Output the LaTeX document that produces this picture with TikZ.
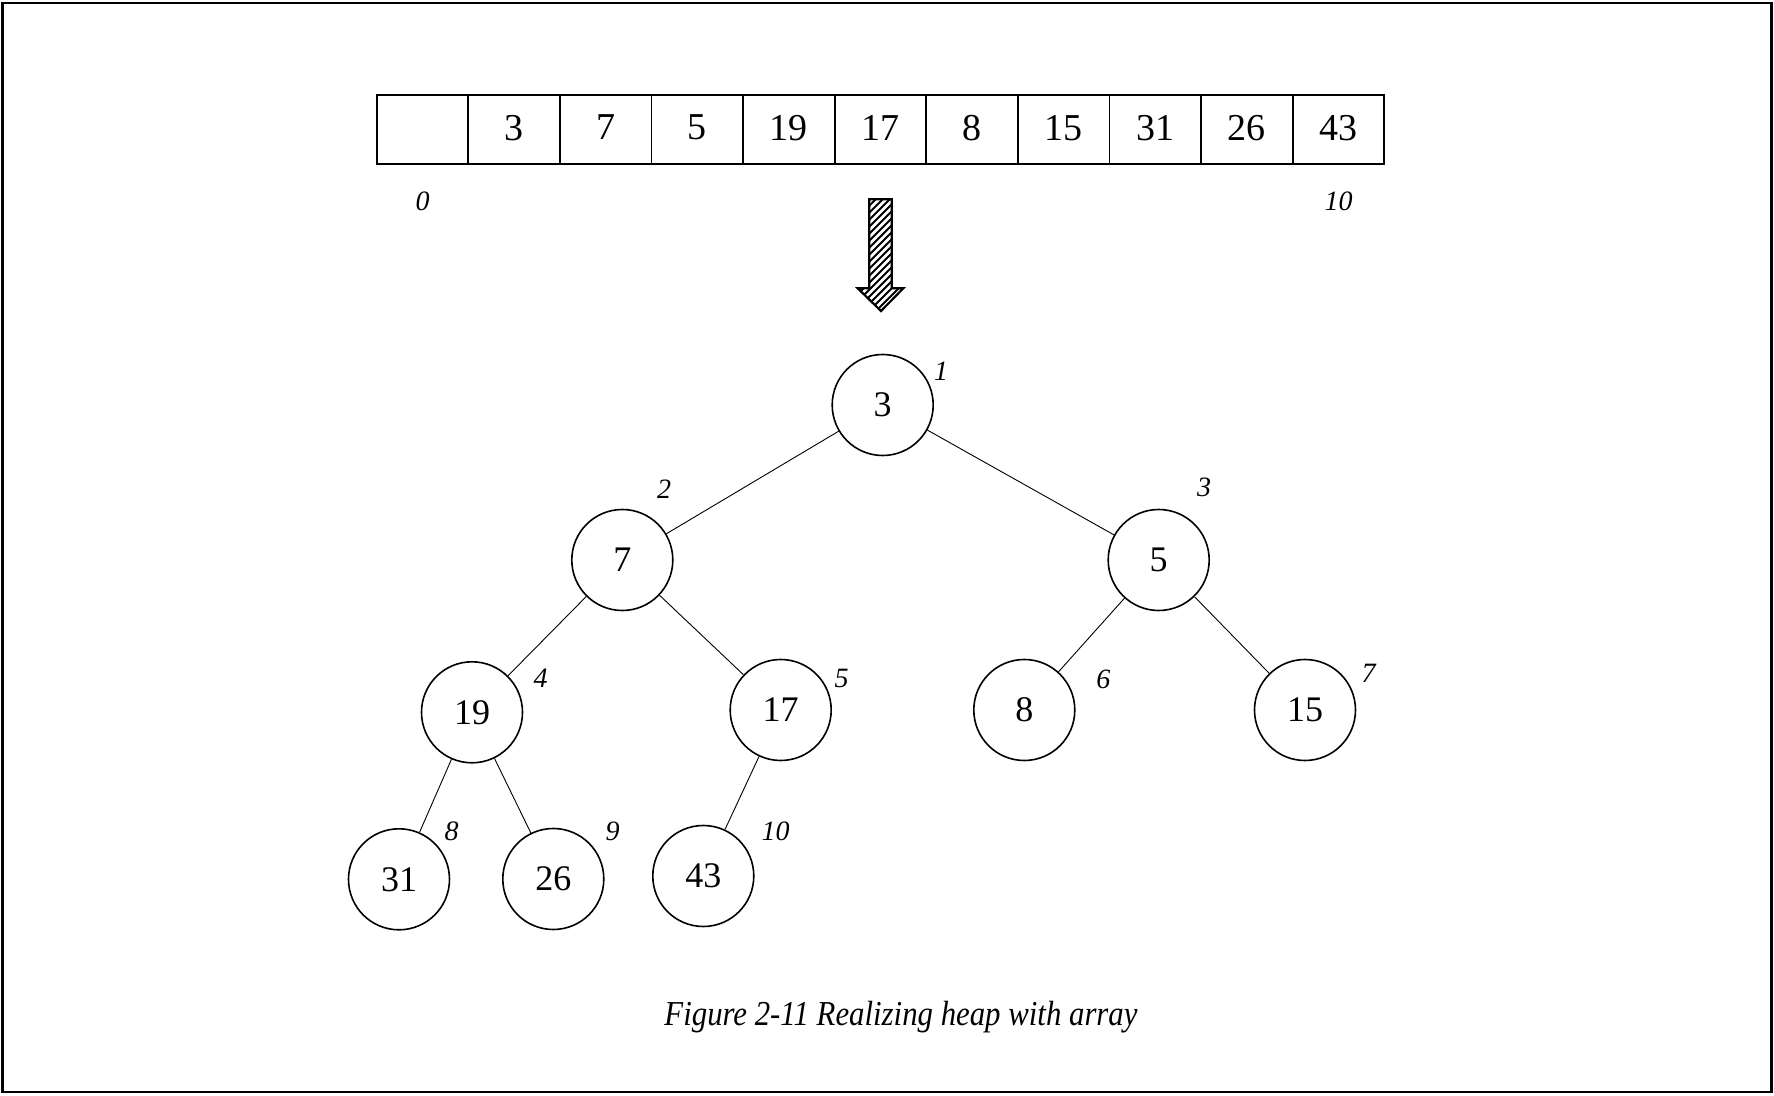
\documentclass[tikz,border=0pt]{standalone}
\usepackage{fontspec}
\setmainfont{Liberation Serif}
\begin{document}
\begin{tikzpicture}[x=0.5pt,y=-0.5pt,
  cell/.style={draw,line width=0.9pt,minimum width=45.8pt,minimum height=34.5pt,inner sep=0pt,font=\fontsize{19}{23}\selectfont},
  heapnode/.style={circle,draw,line width=0.8pt,minimum size=50.5pt,inner sep=0pt,font=\fontsize{18}{22}\selectfont},
  idx/.style={font=\fontsize{14}{17}\selectfont\itshape,inner sep=0pt},
  edge/.style={line width=0.45pt},
  captionstyle/.style={font=\fontsize{17.5}{21}\selectfont\itshape,inner sep=0pt,anchor=base}]
\useasboundingbox (0,0) rectangle (1774,1096);
\draw[line width=1.25pt] (2.5,3) rectangle (1771.5,1092);

% array
\foreach \v [count=\i from 0] in {{},3,7,5,19,17,8,15,31,26,43}
  \node[cell] (c\i) at (422.5+91.6*\i,129.5) {\raisebox{2pt}{\v}};
\node[idx] (i0) at (422.5,201) {0};
\node[idx] (i10) at (1338.5,201) {10};

% hatched arrow
\begin{scope}
  \clip (869.3,199.3) -- (891.7,199.3) -- (891.7,288.3) -- (903.3,288.3) -- (881,311) -- (857.7,288.3) -- (869.3,288.3) -- cycle;
  \foreach \k in {0,...,25} \draw[line width=0.95pt] (850,190+7*\k) -- ++(70,-70);
\end{scope}
\draw[line width=1.1pt,line join=miter] (869.3,199.3) -- (891.7,199.3) -- (891.7,288.3) -- (903.3,288.3) -- (881,311) -- (857.7,288.3) -- (869.3,288.3) -- cycle;

% heap
\node[heapnode] (n1) at (882.7,405) {3};
\node[heapnode] (n2) at (622.3,560) {7};
\node[heapnode] (n3) at (1158.7,560) {5};
\node[heapnode] (n4) at (472,712.3) {19};
\node[heapnode] (n5) at (780.7,710) {17};
\node[heapnode] (n6) at (1024.3,710) {8};
\node[heapnode] (n7) at (1305,710) {15};
\node[heapnode] (n8) at (399,879.3) {31};
\node[heapnode] (n9) at (553.3,879) {26};
\node[heapnode] (n10) at (703.3,876) {43};

\draw[edge] (n1) -- (n2);
\draw[edge] (n1) -- (n3);
\draw[edge] (n2) -- (n4);
\draw[edge] (n2) -- (n5);
\draw[edge] (n3) -- (n6);
\draw[edge] (n3) -- (n7);
\draw[edge] (n4) -- (n8);
\draw[edge] (n4) -- (n9);
\draw[edge] (n5) -- (n10);

\node[idx] (l1) at (941,371.7) {1};
\node[idx] (l2) at (664,489) {2};
\node[idx] (l3) at (1204,487.7) {3};
\node[idx] (l4) at (540.7,678.3) {4};
\node[idx] (l5) at (841.7,678.3) {5};
\node[idx] (l6) at (1103.3,679.3) {6};
\node[idx] (l7) at (1368.7,673.3) {7};
\node[idx] (l8) at (451.7,831) {8};
\node[idx] (l9) at (612.7,831) {9};
\node[idx] (l10) at (775.7,831) {10};

\node[captionstyle] (cap) at (901,1025) {\scalebox{0.88}[1]{Figure 2-11 Realizing heap with array}};
\end{tikzpicture}
\end{document}
